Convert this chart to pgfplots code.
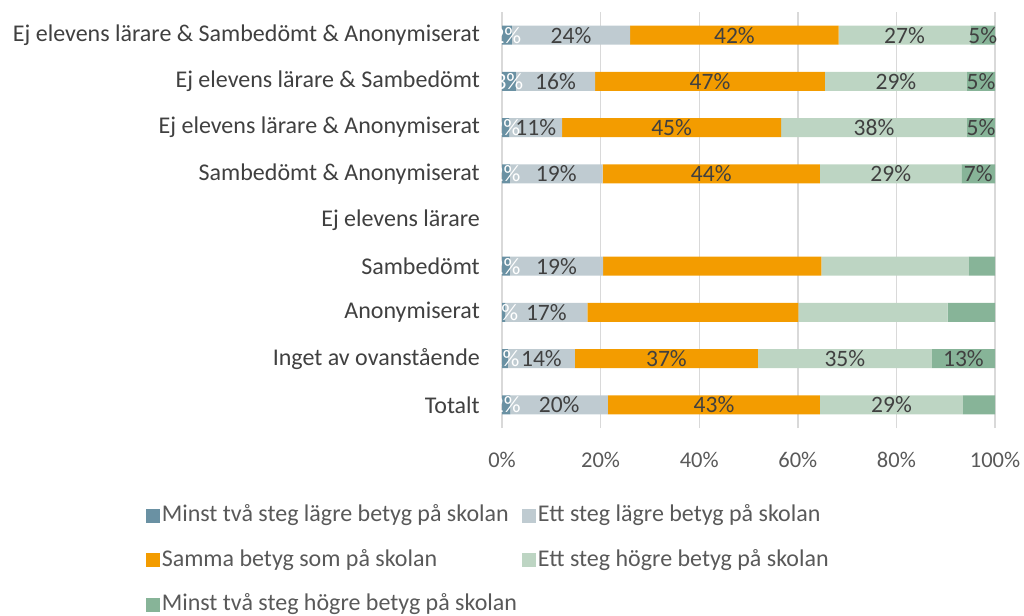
\documentclass[border=0pt]{standalone}
\usepackage{pgfplots}
\usepackage{pgfplotstable}
\pgfplotsset{compat=1.18}
\usepackage{fontspec}
\setmainfont{Carlito}
\definecolor{cA}{HTML}{6A91A3}
\definecolor{cB}{HTML}{BFCBD1}
\definecolor{cC}{HTML}{F39C00}
\definecolor{cD}{HTML}{BDD5C3}
\definecolor{cE}{HTML}{87B498}
\definecolor{txt}{HTML}{404040}
\definecolor{tick}{HTML}{595959}
\definecolor{grd}{HTML}{D9D9D9}

\pgfplotstableread{
y x lab
8 2.0 2\%
7 2.8 3\%
6 1.5 2\%
5 1.6 2\%
3 1.6 2\%
2 0.7 1\%
1 1.2 1\%
0 1.7 2\%
}\tA
\pgfplotstableread{
y x lab
8 24.0 24\%
7 16.1 16\%
6 10.7 11\%
5 18.8 19\%
3 18.9 19\%
2 16.6 17\%
1 13.6 14\%
0 19.8 20\%
}\tB
\pgfplotstableread{
y x lab
8 42.3 42\%
7 46.6 47\%
6 44.4 45\%
5 44.1 44\%
3 44.3 {}
2 42.8 {}
1 37.1 37\%
0 43.0 43\%
}\tC
\pgfplotstableread{
y x lab
8 26.7 27\%
7 28.8 29\%
6 37.7 38\%
5 28.7 29\%
3 29.9 {}
2 30.3 {}
1 35.3 35\%
0 29.0 29\%
}\tD
\pgfplotstableread{
y x lab
8 5.0 5\%
7 5.7 5\%
6 5.7 5\%
5 6.8 7\%
3 5.3 {}
2 9.6 {}
1 12.8 13\%
0 6.9 6\%
}\tE

\pgfplotsset{
  common/.style={
    at={(502pt,-428pt)}, anchor=south west,
    width=493pt, height=416pt, scale only axis,
    xbar stacked, bar width=19pt,
    xmin=0, xmax=100, ymin=-0.5, ymax=8.5,
  }
}

\begin{document}
\fontsize{24}{28}\selectfont
\begin{tikzpicture}
\useasboundingbox (0,0) rectangle (1024pt,-615pt);
\begin{axis}[
  common,
  xtick={0,20,40,60,80,100},
  xticklabels={0\%,20\%,40\%,60\%,80\%,100\%},
  ytick={0,1,2,3,4,5,6,7,8},
  yticklabels={Totalt,Inget av ovanstående,Anonymiserat,Sambedömt,Ej elevens lärare,Sambedömt \& Anonymiserat,Ej elevens lärare \& Anonymiserat,Ej elevens lärare \& Sambedömt,Ej elevens lärare \& Sambedömt \& Anonymiserat},
  axis line style={draw=none},
  tick style={draw=none},
  xmajorgrids, grid style={grd, line width=1.4pt},
  x tick label style={font=\fontsize{22.5}{26}\selectfont, text=tick, yshift=-16pt},
  y tick label style={font=\fontsize{24}{28}\selectfont, text=txt, xshift=-14pt},
  legend columns=2,
  legend style={at={(-0.722,-0.18)}, anchor=north west, draw=none, fill=none, inner sep=0pt,
    font=\fontsize{24}{28}\selectfont, text=tick,
    nodes={inner sep=1.5pt, anchor=base west},
    /tikz/every even column/.append style={column sep=4pt},
    row sep=21pt},
  legend cell align=left,
  legend image code/.code={\fill[#1] (0pt,-1pt) rectangle (14pt,13pt);},
]
\addplot[fill=cA, draw=none] table[x=x,y=y]{\tA};
\addlegendentry{Minst två steg lägre betyg på skolan}
\addplot[fill=cB, draw=none] table[x=x,y=y]{\tB};
\addlegendentry{Ett steg lägre betyg på skolan}
\addplot[fill=cC, draw=none] table[x=x,y=y]{\tC};
\addlegendentry{Samma betyg som på skolan}
\addplot[fill=cD, draw=none] table[x=x,y=y]{\tD};
\addlegendentry{Ett steg högre betyg på skolan}
\addplot[fill=cE, draw=none] table[x=x,y=y]{\tE};
\addlegendentry{Minst två steg högre betyg på skolan}
\end{axis}
\begin{axis}[
  common, hide axis,
  point meta=explicit symbolic,
  nodes near coords,
  every node near coord/.append style={anchor=center, font=\fontsize{23.5}{27}\selectfont, text=txt, inner sep=0pt},
]
\addplot[fill=none, draw=none, every node near coord/.append style={text=white}] table[x=x,y=y,meta=lab]{\tA};
\addplot[fill=none, draw=none] table[x=x,y=y,meta=lab]{\tB};
\addplot[fill=none, draw=none] table[x=x,y=y,meta=lab]{\tC};
\addplot[fill=none, draw=none] table[x=x,y=y,meta=lab]{\tD};
\addplot[fill=none, draw=none] table[x=x,y=y,meta=lab]{\tE};
\end{axis}
\end{tikzpicture}
\end{document}
